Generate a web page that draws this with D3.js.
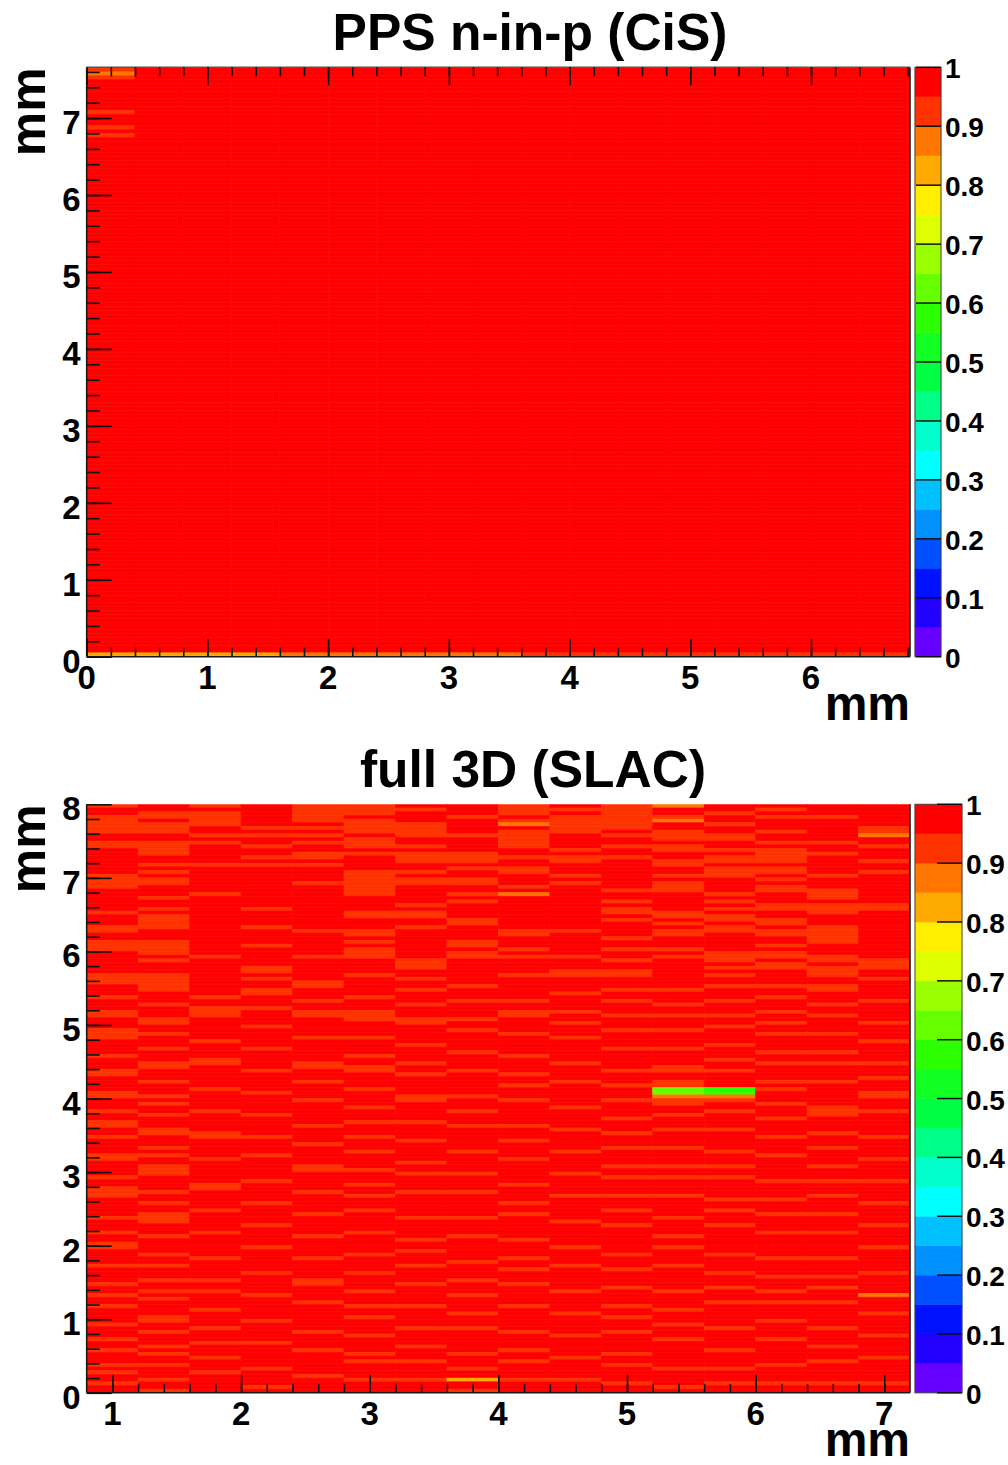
<!DOCTYPE html>
<html><head><meta charset="utf-8">
<script src="https://cdn.jsdelivr.net/npm/d3@7"></script>
<style>
body{margin:0;background:#fff}
svg text{font-family:"Liberation Sans",Arial,Helvetica,sans-serif;font-weight:bold;fill:#000}
</style>
</head><body>
<svg id="c" width="1008" height="1465"></svg>
<script>
// ---------------- DATA ----------------
// 20 colour levels of the z palette (0-0.05, 0.05-0.1, ... 0.95-1)
const levelColors = ["#6600ff","#2200ff","#0011ff","#0050ff","#0090ff","#00c0ff","#00ffff","#00ffcc",
  "#00ff88","#00ff44","#11ff22","#2cff00","#66ff00","#99ff00","#ddff00","#ffee00","#ffaa00","#ff7700","#ff3300","#ff0000"];
// efficiency codes used in the cell strings
const codeValues = {R:0.98, o:0.93, O:0.88, Y:0.83, g:0.63, G:0.57};

const topTitle = "PPS n-in-p (CiS)";
const bottomTitle = "full 3D (SLAC)";
const axisTitle = "mm";
const topXTicks = [0,1,2,3,4,5,6];
const topYTicks = [0,1,2,3,4,5,6,7];
const bottomXTicks = [1,2,3,4,5,6,7];
const bottomYTicks = [0,1,2,3,4,5,6,7,8];
const zTicks = [0,0.1,0.2,0.3,0.4,0.5,0.6,0.7,0.8,0.9,1];
const zTickLabels = ["0","0.1","0.2","0.3","0.4","0.5","0.6","0.7","0.8","0.9","1"];

// top map: 18 columns of 0.4 mm from x=0, rows of 0.05 mm listed from y=7.7 downwards
const topColumns = [
"OoOoRRRRRR RRoRRRoRoR RRRRRRRRRR RRRRRRRRRR RRRRRRRRRR RRRRRRRRRR RRRRRRRRRR RRRRRRRRRR RRRRRRRRRR RRRRRRRRRR RRRRRRRRRR RRRRRRRRRR RRRRRRRRRR RRRRRRRRRR RRRRRRRRRR RRRY",
"RRRRRRRRRR RRRRRRRRRR RRRRRRRRRR RRRRRRRRRR RRRRRRRRRR RRRRRRRRRR RRRRRRRRRR RRRRRRRRRR RRRRRRRRRR RRRRRRRRRR RRRRRRRRRR RRRRRRRRRR RRRRRRRRRR RRRRRRRRRR RRRRRRRRRR RRRY",
"RRRRRRRRRR RRRRRRRRRR RRRRRRRRRR RRRRRRRRRR RRRRRRRRRR RRRRRRRRRR RRRRRRRRRR RRRRRRRRRR RRRRRRRRRR RRRRRRRRRR RRRRRRRRRR RRRRRRRRRR RRRRRRRRRR RRRRRRRRRR RRRRRRRRRR RRRY",
"RRRRRRRRRR RRRRRRRRRR RRRRRRRRRR RRRRRRRRRR RRRRRRRRRR RRRRRRRRRR RRRRRRRRRR RRRRRRRRRR RRRRRRRRRR RRRRRRRRRR RRRRRRRRRR RRRRRRRRRR RRRRRRRRRR RRRRRRRRRR RRRRRRRRRR RRRY",
"RRRRRRRRRR RRRRRRRRRR RRRRRRRRRR RRRRRRRRRR RRRRRRRRRR RRRRRRRRRR RRRRRRRRRR RRRRRRRRRR RRRRRRRRRR RRRRRRRRRR RRRRRRRRRR RRRRRRRRRR RRRRRRRRRR RRRRRRRRRR RRRRRRRRRR RRRO",
"RRRRRRRRRR RRRRRRRRRR RRRRRRRRRR RRRRRRRRRR RRRRRRRRRR RRRRRRRRRR RRRRRRRRRR RRRRRRRRRR RRRRRRRRRR RRRRRRRRRR RRRRRRRRRR RRRRRRRRRR RRRRRRRRRR RRRRRRRRRR RRRRRRRRRR RRRO",
"RRRRRRRRRR RRRRRRRRRR RRRRRRRRRR RRRRRRRRRR RRRRRRRRRR RRRRRRRRRR RRRRRRRRRR RRRRRRRRRR RRRRRRRRRR RRRRRRRRRR RRRRRRRRRR RRRRRRRRRR RRRRRRRRRR RRRRRRRRRR RRRRRRRRRR RRRO",
"RRRRRRRRRR RRRRRRRRRR RRRRRRRRRR RRRRRRRRRR RRRRRRRRRR RRRRRRRRRR RRRRRRRRRR RRRRRRRRRR RRRRRRRRRR RRRRRRRRRR RRRRRRRRRR RRRRRRRRRR RRRRRRRRRR RRRRRRRRRR RRRRRRRRRR RRRO",
"RRRRRRRRRR RRRRRRRRRR RRRRRRRRRR RRRRRRRRRR RRRRRRRRRR RRRRRRRRRR RRRRRRRRRR RRRRRRRRRR RRRRRRRRRR RRRRRRRRRR RRRRRRRRRR RRRRRRRRRR RRRRRRRRRR RRRRRRRRRR RRRRRRRRRR RRRO",
"RRRRRRRRRR RRRRRRRRRR RRRRRRRRRR RRRRRRRRRR RRRRRRRRRR RRRRRRRRRR RRRRRRRRRR RRRRRRRRRR RRRRRRRRRR RRRRRRRRRR RRRRRRRRRR RRRRRRRRRR RRRRRRRRRR RRRRRRRRRR RRRRRRRRRR RRRo",
"RRRRRRRRRR RRRRRRRRRR RRRRRRRRRR RRRRRRRRRR RRRRRRRRRR RRRRRRRRRR RRRRRRRRRR RRRRRRRRRR RRRRRRRRRR RRRRRRRRRR RRRRRRRRRR RRRRRRRRRR RRRRRRRRRR RRRRRRRRRR RRRRRRRRRR RRRo",
"RRRRRRRRRR RRRRRRRRRR RRRRRRRRRR RRRRRRRRRR RRRRRRRRRR RRRRRRRRRR RRRRRRRRRR RRRRRRRRRR RRRRRRRRRR RRRRRRRRRR RRRRRRRRRR RRRRRRRRRR RRRRRRRRRR RRRRRRRRRR RRRRRRRRRR RRRo",
"RRRRRRRRRR RRRRRRRRRR RRRRRRRRRR RRRRRRRRRR RRRRRRRRRR RRRRRRRRRR RRRRRRRRRR RRRRRRRRRR RRRRRRRRRR RRRRRRRRRR RRRRRRRRRR RRRRRRRRRR RRRRRRRRRR RRRRRRRRRR RRRRRRRRRR RRRo",
"RRRRRRRRRR RRRRRRRRRR RRRRRRRRRR RRRRRRRRRR RRRRRRRRRR RRRRRRRRRR RRRRRRRRRR RRRRRRRRRR RRRRRRRRRR RRRRRRRRRR RRRRRRRRRR RRRRRRRRRR RRRRRRRRRR RRRRRRRRRR RRRRRRRRRR RRRo",
"RRRRRRRRRR RRRRRRRRRR RRRRRRRRRR RRRRRRRRRR RRRRRRRRRR RRRRRRRRRR RRRRRRRRRR RRRRRRRRRR RRRRRRRRRR RRRRRRRRRR RRRRRRRRRR RRRRRRRRRR RRRRRRRRRR RRRRRRRRRR RRRRRRRRRR RRRo",
"RRRRRRRRRR RRRRRRRRRR RRRRRRRRRR RRRRRRRRRR RRRRRRRRRR RRRRRRRRRR RRRRRRRRRR RRRRRRRRRR RRRRRRRRRR RRRRRRRRRR RRRRRRRRRR RRRRRRRRRR RRRRRRRRRR RRRRRRRRRR RRRRRRRRRR RRRo",
"RRRRRRRRRR RRRRRRRRRR RRRRRRRRRR RRRRRRRRRR RRRRRRRRRR RRRRRRRRRR RRRRRRRRRR RRRRRRRRRR RRRRRRRRRR RRRRRRRRRR RRRRRRRRRR RRRRRRRRRR RRRRRRRRRR RRRRRRRRRR RRRRRRRRRR RRRo",
"RRRRRRRRRR RRRRRRRRRR RRRRRRRRRR RRRRRRRRRR RRRRRRRRRR RRRRRRRRRR RRRRRRRRRR RRRRRRRRRR RRRRRRRRRR RRRRRRRRRR RRRRRRRRRR RRRRRRRRRR RRRRRRRRRR RRRRRRRRRR RRRRRRRRRR RRRo"
];

// bottom map: 16 columns of 0.4 mm from x=0.8, 160 rows of 0.05 mm listed from y=8 downwards
const bottomColumns = [
"oRRoooooRR ooRRRRRRRo oooRRRRRRo RRRooRRooo RRRRRRoooR RRoRRRooRR RoooRRRRoR RRooRRRRoo RRRoRRooRR oRRRRooRRR RoRRoooRRR RRoRRRoRRo oRRRRoRRRR oRRoRRoRRR RoRRRoRRoR RRoRoRRoRR",
"RRooRoooRR ooooRRoRoR ooRRRoRRoR ooooRRRooo oRoRRRoooo oRRRoRRRoo RRoRRRoRRR ooRRRoRRRo RoRRoRRRoo RRRoRoRRoo oRRRRoRRoR RoooRRRoRR RRoRRoRRRo RRoRoRRRRo oRRoRRRoRo RRoRRRoRRo",
"oRooooRRoR oRRRRRoRRR RRRRoRRRRR RRRRRRRRRR RoRRRRRRRR RRoRRoooRR RRRRoRRRRo oRRRRRRoRR RRRoRRRRRo oRRRRRoRRR RRRooRRRRR oRRRRRoRRR RRRoRRRRRo RRoRRRRoRR RRoRRRoRRR oRRRoRRRRR",
"RRRRRRoRoR RoRRoRoRRR RRRRRRRRoR RRRoRRRRoR RRRRooRoRR ooRRRoRRRR oRRRRRoRRR RRoRRRRRoR RRRRoRRRRR oRRRRoRRRR RRoRRRRRoR RRRRoRRRRR oRRRRRRoRR RRRoRRRRRR oRRRRRoRRR RRRoRRRRoR",
"oooooRoRoR oRRooRoRRR RoRRRRRRRR RRRRoRRRRR RoRRRRRRoo RRRoRRooRR RRRoRRRRRR ooRRRoRRRR oRRRRRRoRR RRoRRRRRoo RRRRRoRRRR RoRRRRRoRR RRRoRRRRRo oRRRRoRRRR RRRoRRRRoR RRRRRoRRRR",
"oooRooooRo ooRoRRRRoo oooooRRRRo oRRRooRoRo ooRRRRoRRR RRoRRRoooR RRRoRRRRoR RooRRRRoRR RRoRRRoRRR oRRRoRRRRo RRRoRRoRRR oRRRRRoRRR RRoRRRRoRR RRoRRRoRRo RRRRoRRRRo RoRRRRoRRR",
"RoRRRooooR RoRoooRRoR ooRRRRRoRo oRRoRRRRRR RRoooRRoRR oRRRoRRRoo RRRRRoRRRR oRRoRRRRRo oRRRRRoRRR RoRRRRRoRR oRRRRoRRRR RRoRRRRRoR RoRRRoRRRR oRRRRRoRRR RRoRRRRoRR RoRRRRoRRR",
"RRRoRRRRoR RRRoooRoRR ooRRoRoRRR RooRRRRooR ooRRRRRRRo RRRoRRRRoR RoRRRRRoRR RRoRRRRRRo RRRoRRRoRR RRRRoRRRRR oRRRRoRRRR RRoRRRRoRR RRRRoRRRRo RRRoRRRRoR RRoRRRRRRo RRRoRRYRRo",
"oooRoORooo ooRRoRRooR RRoRORRRRR RRRRooRRRo RoRRRRoRRR RRRoRRooRR RRoRRRRRoR RRRoRRoRRR oRRRRRRoRR RoRRRRoRRR RRRoRRRRoR RoRRRRRRoR RRRoRRoRRR oRRRRRoRRR RRRoRRRRoR RoRRRRoRRR",
"RoRoooooRR RRoRooRRRo RoRRRRRRRR RRRRoRRRRR RoRRRooRRR RoRRRRoRRo RRRoRRRRRR oRRRRoRRRR RRoRRRRRoR RRRRoRRRRR oRRRRRoRRR RRRoRRRRRR oRRRRoRRRR RRoRRRRRoR RRRRoRRRRR oRRRRRoRRR",
"oooooooRoR RoRRoRRRRR RRRoRRoRoo RoRRRRoRRo RRoRRooRRR oRRoRRRoRR RoRRRRoRRR RRoRRRoRRR oRRRRoRRRo RRRoRRRRoR RoRRRRoRRR oRRRoRRRRR RRoRRRoRRR RoRRRRoRRo RRRoRRRRRo RRoRRRRoRR",
"ORRoORRooo RooRRooRRo RoooRRRRRo oRoRooRRRo RoRRRRRRRR oRRRoRRoRR RoRRRRoRRR RooRRooggO ooRRoRRRoR RRRoRRRRoR RoRRRRoRRR RRoRRRRoRR oRRRRoRRRR RRoRRRRoRR RoRRRoRRRR RRRoRRRRoR",
"RRoRRoRRoo RRoRooRooo RRRRoRoRoR ooRooRRRRR oooRoRoRRo RRRoRRRoRR oRRRRoRRRo RRoRRRRGGO oRRoRRRRoR RRRRoRRRoR RoRRRRRoRR oRRRoRRRRR RRoRRRRoRR RoRRRoRRRR RRoRRRRRoR RRRoRRRoRR",
"RoRoRRRoRR oRooooRooR oRooRRRooR RooRooRRoR ooRooRRRRo RRoRRRoRRo RRoRRRRoRR oRRRRoRoRR RoRRRoRRRR oRRRRoRRRR RRoRRRRoRR RoRRRRoRRR RRRoRRRRoR RRoRRoRRRR oRRRRoRRRR RRoRRRRoRR",
"RRRoRRRRRR oRRoRRRRRo RRRoooRooo RRRoooooRR RooRoooRRo oRRRoRRoRR RRoRRRRoRR oRRRRoRRRR RRoooRRRRo RRRoRRRRoR RRoRRRoRRR RoRRRRoRRR RRRoRRRRoR RoRRRoRRRR RRoRRRRoRR RoRRRRRoRR",
"RRRRRRooOR RoRRRoRRoR RRRRRRRooR RRRRRRRRRR RRoooRRoRR RRRoRRRRRo RRRRoRRRRR oRRRoRRRoo RRRoRRRRRR oRRRRRoRRR RRoRRRRRoR RRRRoRRRRR oRRRRRRoRR RRRORRRRoR RRRRoRRRRR oRRRRRRoRR"
];

// ---------------- LAYOUT ----------------
const svg = d3.select("#c");
const panels = [
  {id:"top", title:topTitle, columns:topColumns, xStart:0, binW:0.4, yTopBin:7.7, binH:0.05,
   xDomain:[0,6.82], yDomain:[0,7.66], left:86.7, right:910, top:67.3, bottom:656.7,
   xTicks:topXTicks, yTicks:topYTicks, topTicks:true, topLine:true,
   cbLeft:915, cbRight:941, titleX:530, titleY:50, xTitleY:720},
  {id:"bot", title:bottomTitle, columns:bottomColumns, xStart:0.8, binW:0.4, yTopBin:8, binH:0.05,
   xDomain:[0.8,7.2], yDomain:[0,8], left:86.7, right:910, top:804.3, bottom:1392.8,
   xTicks:bottomXTicks, yTicks:bottomYTicks, topTicks:false, topLine:false,
   cbLeft:915, cbRight:962, titleX:533, titleY:787, xTitleY:1456}
];

function levelIndex(v){ return Math.max(0, Math.min(19, Math.floor(v/0.05 + 1e-9))); }

const problems = [];

panels.forEach(p => {
  const g = svg.append("g");
  const x = d3.scaleLinear().domain(p.xDomain).range([p.left, p.right]);
  const y = d3.scaleLinear().domain(p.yDomain).range([p.bottom, p.top]);
  const clipId = "clip-" + p.id;
  svg.append("clipPath").attr("id", clipId).append("rect")
    .attr("x", p.left).attr("y", p.top).attr("width", p.right - p.left).attr("height", p.bottom - p.top);

  const cells = [];
  p.columns.forEach((str, c) => {
    const groups = str.split(" ");
    groups.forEach((gr, gi) => { if (gi < groups.length - 1 && gr.length !== 10) problems.push(p.id + " col " + c + " group " + gi + " len " + gr.length); });
    const s = str.replace(/ /g, "");
    for (let r = 0; r < s.length; r++) {
      const v = codeValues[s[r]];
      if (v === undefined) problems.push(p.id + " bad code " + s[r]);
      const x0 = p.xStart + c * p.binW, x1 = x0 + p.binW;
      const y1 = p.yTopBin - r * p.binH, y0 = y1 - p.binH;
      cells.push({x0, x1, y0, y1, v});
    }
  });
  g.append("g").attr("clip-path", `url(#${clipId})`)
    .selectAll("rect").data(cells).join("rect")
    .attr("x", d => x(d.x0)).attr("y", d => y(d.y1))
    .attr("width", d => x(d.x1) - x(d.x0)).attr("height", d => y(d.y0) - y(d.y1))
    .attr("fill", d => levelColors[levelIndex(d.v)])
    .attr("stroke", d => levelColors[levelIndex(d.v)]).attr("stroke-width", 0.6);

  // frame
  const fr = g.append("g").attr("stroke", "#1a1a1a").attr("stroke-width", 1.6).attr("fill", "none");
  fr.append("line").attr("x1", p.left).attr("x2", p.left).attr("y1", p.top).attr("y2", p.bottom);
  fr.append("line").attr("x1", p.left).attr("x2", p.right).attr("y1", p.bottom).attr("y2", p.bottom);
  fr.append("line").attr("x1", p.right).attr("x2", p.right).attr("y1", p.top).attr("y2", p.bottom);
  if (p.topLine) fr.append("line").attr("x1", p.left).attr("x2", p.right).attr("y1", p.top).attr("y2", p.top)
    .attr("stroke", "#555");

  const xMinor = d3.range(Math.ceil(p.xDomain[0] / 0.2 - 1e-6), Math.floor(p.xDomain[1] / 0.2 + 1e-6) + 1).map(k => +(k * 0.2).toFixed(2))
    .filter(v => v > p.xDomain[0] + 1e-6 && v < p.xDomain[1] - 1e-6);
  const yMinor = d3.range(Math.ceil(p.yDomain[0] / 0.2 - 1e-6), Math.floor(p.yDomain[1] / 0.2 + 1e-6) + 1).map(k => +(k * 0.2).toFixed(2))
    .filter(v => v > p.yDomain[0] + 1e-6 && v < p.yDomain[1] - 1e-6);

  const tickStyle = sel => { sel.select(".domain").remove(); sel.selectAll("line").attr("stroke", "#111").attr("stroke-width", 1.6); sel.selectAll("text").remove(); };
  g.append("g").attr("transform", `translate(0,${p.bottom})`).call(d3.axisBottom(x).tickValues(xMinor).tickSize(-9)).call(tickStyle);
  g.append("g").attr("transform", `translate(0,${p.bottom})`).call(d3.axisBottom(x).tickValues(p.xTicks).tickSize(-18)).call(tickStyle);
  if (p.topTicks) {
    g.append("g").attr("transform", `translate(0,${p.top})`).call(d3.axisTop(x).tickValues(xMinor).tickSize(-9)).call(tickStyle);
    g.append("g").attr("transform", `translate(0,${p.top})`).call(d3.axisTop(x).tickValues(p.xTicks).tickSize(-18)).call(tickStyle);
  }
  g.append("g").attr("transform", `translate(${p.left},0)`).call(d3.axisLeft(y).tickValues(yMinor).tickSize(-13)).call(tickStyle);
  g.append("g").attr("transform", `translate(${p.left},0)`).call(d3.axisLeft(y).tickValues(p.yTicks).tickSize(-25)).call(tickStyle);

  // tick labels
  g.selectAll("text.xl").data(p.xTicks).join("text").attr("class", "xl")
    .attr("x", d => x(d)).attr("y", p.bottom + 32).attr("text-anchor", "middle")
    .attr("font-size", 33).text(d => d);
  g.selectAll("text.yl").data(p.yTicks).join("text").attr("class", "yl")
    .attr("x", p.left - 6).attr("y", d => y(d) + 16).attr("text-anchor", "end")
    .attr("font-size", 33).text(d => d);

  // titles
  g.append("text").attr("x", p.titleX).attr("y", p.titleY).attr("text-anchor", "middle").attr("font-size", 51.5).text(p.title);
  g.append("text").attr("x", p.right).attr("y", p.xTitleY).attr("text-anchor", "end").attr("font-size", 48).text(axisTitle);
  g.append("text").attr("transform", `translate(45,${p.top}) rotate(-90)`).attr("text-anchor", "end").attr("font-size", 50).text(axisTitle);

  // colour bar
  const z = d3.scaleLinear().domain([0, 1]).range([p.bottom, p.top]);
  const cb = g.append("g");
  cb.selectAll("rect").data(levelColors).join("rect")
    .attr("x", p.cbLeft).attr("width", p.cbRight - p.cbLeft)
    .attr("y", (c, i) => z((i + 1) * 0.05)).attr("height", (c, i) => z(i * 0.05) - z((i + 1) * 0.05))
    .attr("fill", c => c).attr("stroke", c => c).attr("stroke-width", 0.5);
  cb.append("rect").attr("x", p.cbLeft).attr("y", p.top).attr("width", p.cbRight - p.cbLeft).attr("height", p.bottom - p.top)
    .attr("fill", "none").attr("stroke", "#444").attr("stroke-width", 1);
  cb.selectAll("line").data(zTicks).join("line")
    .attr("x1", p.cbRight - 25).attr("x2", p.cbRight).attr("y1", d => z(d)).attr("y2", d => z(d))
    .attr("stroke", "#111").attr("stroke-width", 1.5);
  cb.selectAll("text").data(zTicks).join("text")
    .attr("x", p.cbRight + 4).attr("y", d => z(d) + 11).attr("font-size", 28)
    .text((d, i) => zTickLabels[i]);
});

if (problems.length) throw new Error("data problems: " + problems.join("; "));
</script>
</body></html>
